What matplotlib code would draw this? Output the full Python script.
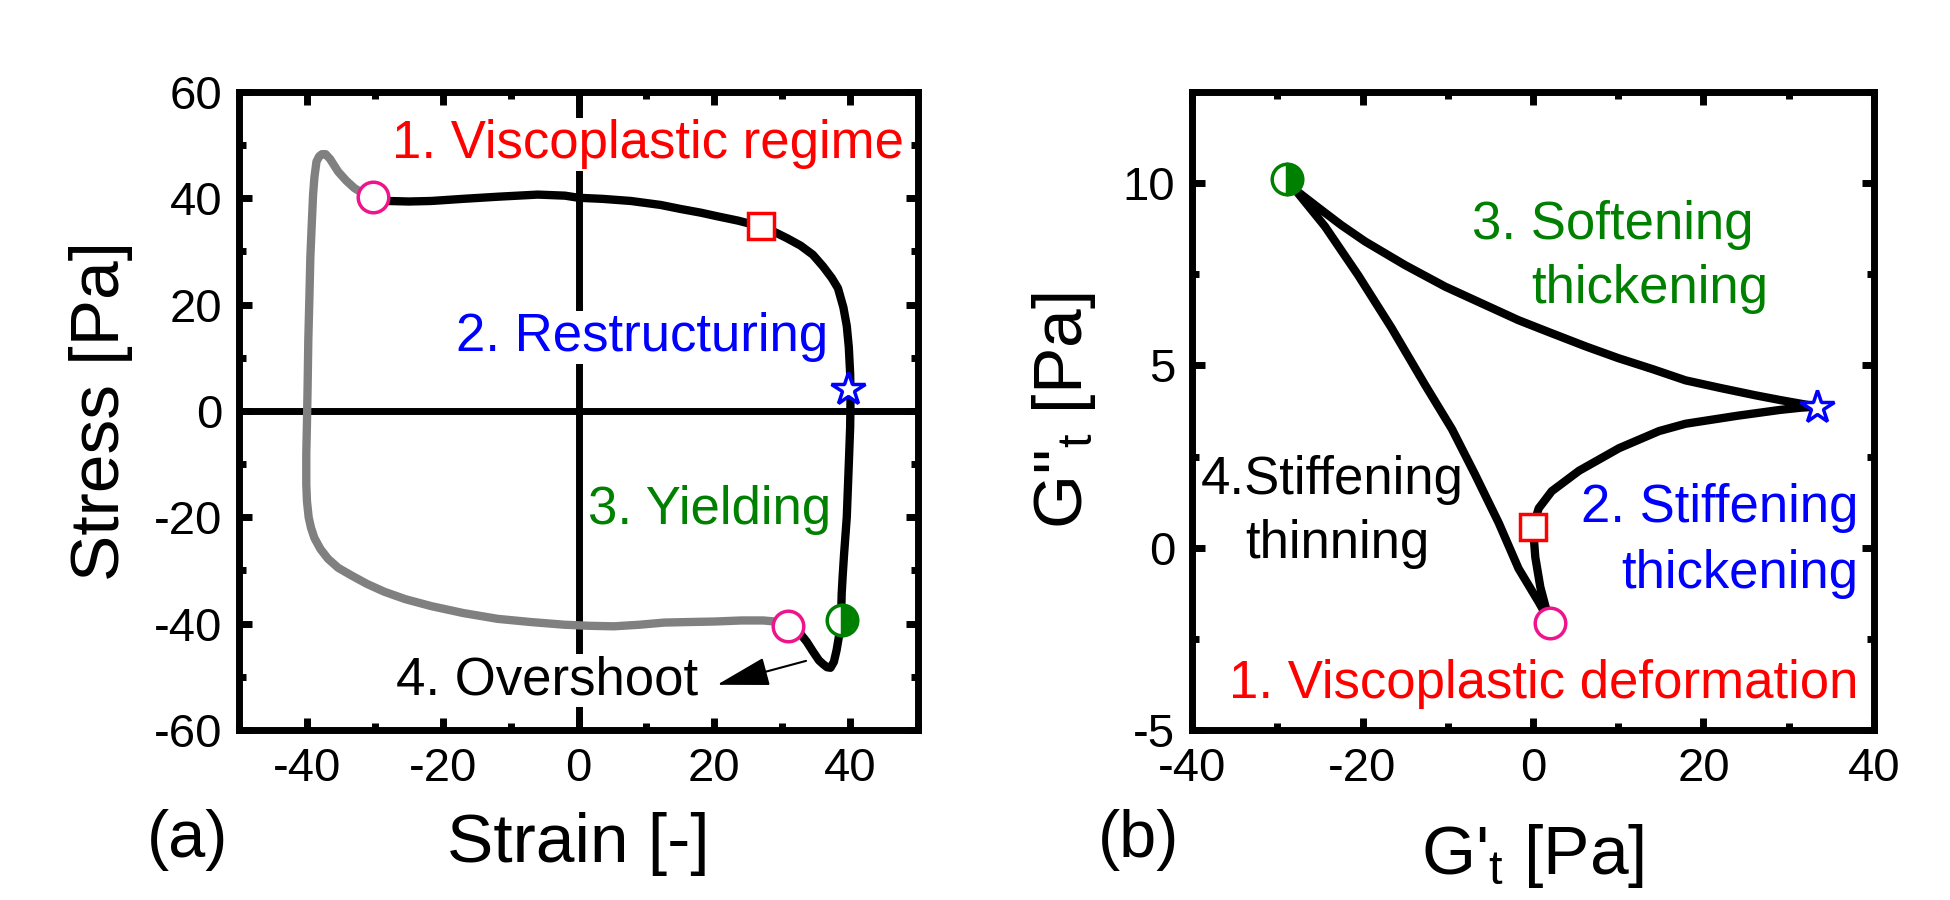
import matplotlib
matplotlib.use("Agg")
import matplotlib.pyplot as plt
from matplotlib.ticker import MultipleLocator

plt.rcParams['font.family'] = ['Liberation Sans', 'DejaVu Sans']
plt.rcParams['mathtext.fontset'] = 'custom'
plt.rcParams['mathtext.rm'] = 'Liberation Sans'
plt.rcParams['mathtext.it'] = 'Liberation Sans'
plt.rcParams['axes.unicode_minus'] = False

# ---- (a) stress - strain loop ----
# black half: from the upper circle, along the top, down the right side, overshoot, lower circle
strain_black = [-30.3, -28.1, -25.0, -21.7, -17.0, -11.9, -6.0, -2.0, 0.0, 3.5, 7.7, 12.1, 15.0,
                18.0, 20.5, 23.5, 26.8, 28.8, 30.7, 32.7, 34.5, 36.0, 37.3, 38.2, 39.0, 39.5, 39.8,
                40.0, 40.05, 40.0, 39.8, 39.5, 39.1, 38.9, 38.75, 38.7, 38.7, 38.4, 38.0, 37.6,
                37.1, 36.6, 36.0, 35.4, 34.5, 33.6, 32.6, 30.9]
stress_black = [40.3, 39.5, 39.4, 39.5, 39.9, 40.3, 40.7, 40.5, 40.1, 39.9, 39.5, 38.75, 38.0,
                37.3, 36.6, 35.8, 34.7, 33.7, 32.5, 31.1, 29.4, 27.2, 25.0, 23.1, 19.5, 16.0, 12.0,
                7.0, 2.0, -3.0, -10.0, -20.0, -27.0, -31.0, -34.4, -37.0, -39.4, -42.0, -45.0, -47.2,
                -48.3, -48.2, -47.6, -46.9, -45.2, -43.4, -41.8, -40.5]
# gray half: from the lower circle, along the bottom, up the left side, overshoot, upper circle
strain_gray = [30.9, 29.0, 27.2, 24.0, 20.0, 16.0, 12.6, 9.0, 5.2, 1.5, -2.1, -7.0, -11.9, -17.0,
               -21.7, -25.5, -28.6, -31.2, -33.5, -35.4, -36.9, -38.0, -38.9, -39.4, -39.75, -40.0,
               -40.1, -40.1, -40.0, -39.9, -39.8, -39.65, -39.5, -39.3, -39.1, -38.9, -38.6, -38.2,
               -37.8, -37.25, -36.6, -35.4, -34.2, -33.0, -31.7, -30.3]
stress_gray = [-40.5, -39.6, -39.4, -39.4, -39.6, -39.7, -39.8, -40.2, -40.5, -40.4, -40.2, -39.7,
               -39.1, -38.0, -36.7, -35.4, -34.0, -32.5, -30.9, -29.5, -27.8, -26.0, -23.9, -22.0,
               -20.0, -17.0, -13.8, -8.0, -2.1, 5.0, 13.5, 21.0, 29.0, 35.0, 40.7, 44.0, 46.9, 47.9,
               48.3, 48.3, 47.4, 45.0, 43.3, 41.9, 40.9, 40.3]

a_circle_x = [-30.3, 30.9]
a_circle_y = [40.3, -40.5]
a_square = (26.8, 34.7)
a_star = (39.7, 4.1)
a_half = (38.8, -39.3)

# ---- (b) G'_t - G''_t ----
gp_t = [2.04, 1.45, 0.86, 0.27, 0.0, 0.67, 2.2, 5.4, 10.1, 14.8, 17.9, 24.0, 29.0, 31.4, 33.3,
        31.4, 29.0, 26.1, 22.0, 17.9, 14.0, 10.0, 6.2, 2.0, -1.7, -6.0, -10.3, -15.0, -19.7,
        -22.5, -25.2, -27.8, -28.9, -27.8, -24.4, -20.5, -16.6, -12.7, -9.5, -6.8, -4.0, -1.7,
        0.67, 2.04]
gpp_t = [-2.06, -1.6, -1.08, -0.26, 0.57, 1.08, 1.55, 2.11, 2.73, 3.20, 3.40, 3.62, 3.78, 3.84,
         3.87, 3.95, 4.05, 4.18, 4.38, 4.59, 4.90, 5.20, 5.52, 5.90, 6.24, 6.70, 7.16, 7.75, 8.40,
         8.85, 9.33, 9.80, 10.1, 9.79, 8.81, 7.47, 6.03, 4.48, 3.25, 2.01, 0.67, -0.57, -1.49,
         -2.06]

b_circle = (2.04, -2.06)
b_square = (0.0, 0.57)
b_star = (33.3, 3.87)
b_half = (-28.9, 10.1)

pink = '#F0148C'
fs_tick = 34
fs_label = 50
fs_note = 38
lw_curve = 6

fig = plt.figure(figsize=(19.5, 9), dpi=100)
ax1 = fig.add_axes([0.1226, 0.1889, 0.3482, 0.7089])
ax2 = fig.add_axes([0.6113, 0.1889, 0.3497, 0.7089])

for ax in (ax1, ax2):
    for s in ax.spines.values():
        s.set_linewidth(5)
    ax.tick_params(which='both', direction='in', top=True, right=True,
                   labelsize=fs_tick, pad=12)
    ax.tick_params(which='major', length=9, width=5)
    ax.tick_params(which='minor', length=5, width=5)

# panel (a)
ax1.axhline(0, color='k', lw=5, zorder=1)
ax1.axvline(0, color='k', lw=5, zorder=1)
ax1.plot(strain_gray, stress_gray, color='#808080', lw=lw_curve, zorder=3, solid_joinstyle='round')
ax1.plot(strain_black, stress_black, color='k', lw=lw_curve, zorder=3, solid_joinstyle='round')
ax1.plot(a_circle_x, a_circle_y, 'o', ms=22, mfc='white', mec=pink, mew=2.5, zorder=4)
ax1.plot(*a_square, 's', ms=19, mfc='white', mec='red', mew=2.5, zorder=4)
ax1.plot(*a_star, '*', ms=25, mfc='white', mec='blue', mew=2.5, zorder=4)
ax1.plot(*a_half, 'o', ms=22, fillstyle='right', mfc='green', mfcalt='white',
         mec='green', mew=2.5, zorder=4)

box = dict(facecolor='white', edgecolor='none', pad=1)
ax1.text(47.9, 47.5, '1. Viscoplastic regime', color='red', fontsize=fs_note,
         ha='right', va='baseline', bbox=box, zorder=2)
ax1.text(36.7, 11.25, '2. Restructuring', color='blue', fontsize=fs_note,
         ha='right', va='baseline', bbox=box, zorder=2)
ax1.text(1.4, -21.25, '3. Yielding', color='green', fontsize=fs_note,
         ha='left', va='baseline', bbox=box, zorder=2)
ax1.text(-26.9, -53.4, '4. Overshoot', color='black', fontsize=fs_note,
         ha='left', va='baseline', bbox=box, zorder=2)
ax1.annotate('', xy=(20.4, -51.5), xytext=(33.5, -47),
             arrowprops=dict(arrowstyle='-|>,head_length=1.65,head_width=0.45',
                             color='k', lw=1.5, mutation_scale=20,
                             shrinkA=0, shrinkB=0), zorder=3)

ax1.set_xlim(-50, 50)
ax1.set_ylim(-60, 60)
ax1.set_xticks([-40, -20, 0, 20, 40])
ax1.set_yticks([-60, -40, -20, 0, 20, 40, 60])
ax1.xaxis.set_minor_locator(MultipleLocator(10))
ax1.yaxis.set_minor_locator(MultipleLocator(10))
ax1.set_xlabel('Strain [-]', fontsize=fs_label)
ax1.set_ylabel('Stress [Pa]', fontsize=fs_label)
ax1.xaxis.set_label_coords(0.5, -0.128)
ax1.yaxis.set_label_coords(-0.156, 0.5)

# panel (b)
ax2.plot(gp_t, gpp_t, color='k', lw=lw_curve, zorder=3, solid_joinstyle='round')
ax2.plot(*b_circle, 'o', ms=22, mfc='white', mec=pink, mew=2.5, zorder=4)
ax2.plot(*b_square, 's', ms=19, mfc='white', mec='red', mew=2.5, zorder=4)
ax2.plot(*b_star, '*', ms=25, mfc='white', mec='blue', mew=2.5, zorder=4)
ax2.plot(*b_half, 'o', ms=22, fillstyle='right', mfc='green', mfcalt='white',
         mec='green', mew=2.5, zorder=4)

ax2.text(9.4, 8.47, '3. Softening', color='green', fontsize=fs_note, ha='center', va='baseline')
ax2.text(13.7, 6.71, 'thickening', color='green', fontsize=fs_note, ha='center', va='baseline')
ax2.text(-23.5, 1.47, '4.Stiffening', color='black', fontsize=fs_note, ha='center', va='baseline')
ax2.text(-23.0, -0.29, 'thinning', color='black', fontsize=fs_note, ha='center', va='baseline')
ax2.text(38.2, 0.70, '2. Stiffening', color='blue', fontsize=fs_note, ha='right', va='baseline')
ax2.text(38.2, -1.10, 'thickening', color='blue', fontsize=fs_note, ha='right', va='baseline')
ax2.text(38.2, -4.12, '1. Viscoplastic deformation', color='red', fontsize=fs_note,
         ha='right', va='baseline')

ax2.set_xlim(-40, 40)
ax2.set_ylim(-5, 12.5)
ax2.set_xticks([-40, -20, 0, 20, 40])
ax2.set_yticks([-5, 0, 5, 10])
ax2.xaxis.set_minor_locator(MultipleLocator(10))
ax2.yaxis.set_minor_locator(MultipleLocator(2.5))
ax2.set_xlabel("G'$_\\mathregular{t}$ [Pa]", fontsize=fs_label)
ax2.set_ylabel("G''$_\\mathregular{t}$ [Pa]", fontsize=fs_label)
ax2.xaxis.set_label_coords(0.5, -0.144)
ax2.yaxis.set_label_coords(-0.138, 0.5)

fig.text(0.0964, 0.0667, '(a)', fontsize=48, ha='center', va='center')
fig.text(0.584, 0.0667, '(b)', fontsize=48, ha='center', va='center')

fig.savefig('out.png', dpi=100)
